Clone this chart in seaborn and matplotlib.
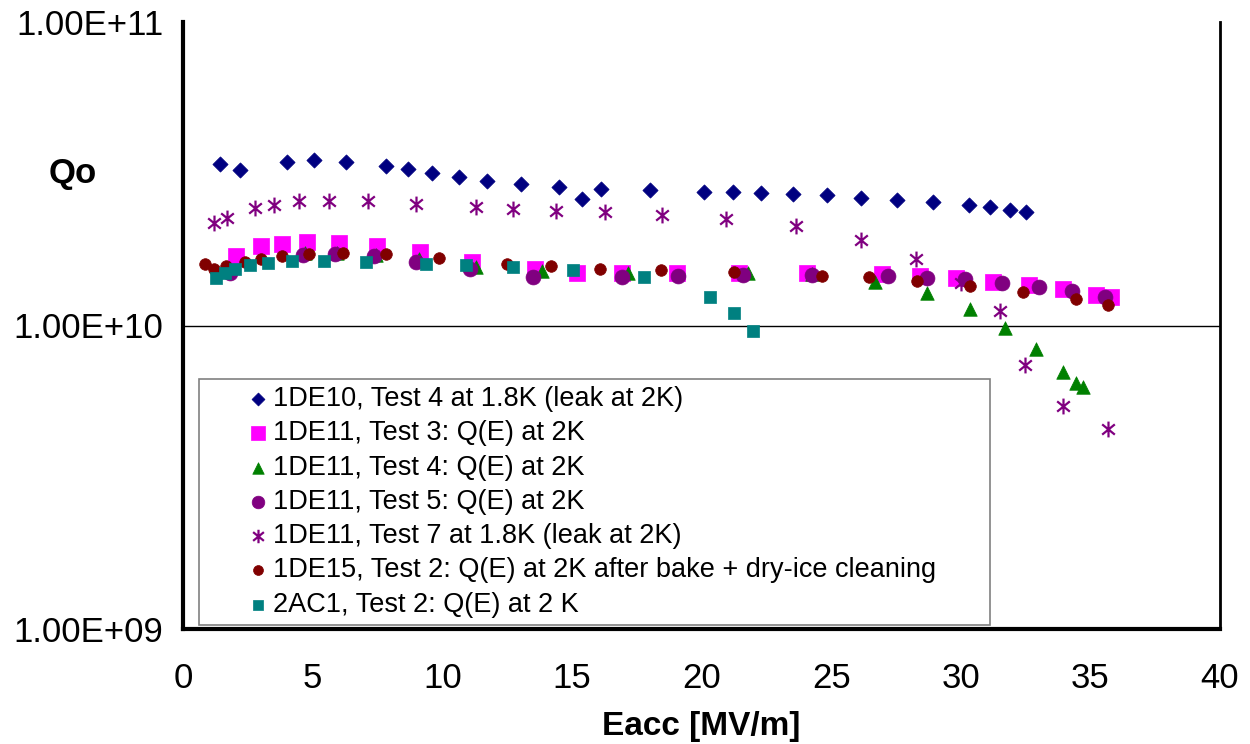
import matplotlib
matplotlib.use("Agg")
import matplotlib.pyplot as plt
import seaborn as sns
import numpy as np
from matplotlib.path import Path
from matplotlib.ticker import FixedLocator, FixedFormatter, NullLocator

# ---------------- data ----------------
de10_t4_x = [1.44, 2.21, 4.01, 5.06, 6.27, 7.83, 8.69, 9.62, 10.65, 11.72, 13.02, 14.49, 15.38, 16.14,
             18.01, 20.10, 21.22, 22.29, 23.54, 24.85, 26.17, 27.54, 28.93, 30.32, 31.11, 31.90, 32.51]
de10_t4_q = [3.40e10, 3.25e10, 3.45e10, 3.51e10, 3.45e10, 3.35e10, 3.27e10, 3.17e10, 3.08e10, 2.99e10,
             2.92e10, 2.86e10, 2.62e10, 2.82e10, 2.80e10, 2.76e10, 2.75e10, 2.73e10, 2.71e10, 2.69e10,
             2.64e10, 2.59e10, 2.55e10, 2.49e10, 2.45e10, 2.40e10, 2.36e10]

de11_t3_x = [2.06, 3.01, 3.82, 4.79, 6.03, 7.49, 9.14, 11.16, 13.57, 15.21, 16.93, 19.04, 21.45, 24.08,
             26.95, 28.42, 29.80, 31.25, 32.64, 33.95, 35.21, 35.79]
de11_t3_q = [1.69e10, 1.83e10, 1.86e10, 1.88e10, 1.87e10, 1.83e10, 1.74e10, 1.62e10, 1.53e10, 1.49e10,
             1.49e10, 1.49e10, 1.49e10, 1.49e10, 1.48e10, 1.46e10, 1.43e10, 1.39e10, 1.36e10, 1.32e10,
             1.26e10, 1.24e10]

de11_t4_x = [4.72, 5.94, 7.44, 9.10, 11.30, 13.83, 17.17, 21.80, 24.25, 26.69, 28.70, 30.35, 31.71,
             32.92, 33.93, 34.43, 34.70]
de11_t4_q = [1.73e10, 1.73e10, 1.71e10, 1.66e10, 1.56e10, 1.51e10, 1.49e10, 1.49e10, 1.48e10, 1.39e10,
             1.28e10, 1.13e10, 9.84e9, 8.37e9, 7.05e9, 6.48e9, 6.26e9]

de11_t5_x = [1.80, 4.63, 5.87, 7.35, 9.00, 11.06, 13.50, 16.94, 19.10, 21.61, 24.28, 27.20, 28.70,
             30.17, 31.61, 33.00, 34.31, 35.57]
de11_t5_q = [1.49e10, 1.71e10, 1.72e10, 1.69e10, 1.62e10, 1.53e10, 1.45e10, 1.44e10, 1.46e10, 1.47e10,
             1.47e10, 1.46e10, 1.43e10, 1.42e10, 1.38e10, 1.34e10, 1.30e10, 1.24e10]

de11_t7_x = [1.20, 1.71, 2.76, 3.51, 4.46, 5.63, 7.12, 8.99, 11.31, 12.73, 14.40, 16.27, 18.47, 20.95,
             23.64, 26.17, 28.28, 30.00, 31.53, 32.48, 33.94, 35.68]
de11_t7_q = [2.18e10, 2.26e10, 2.43e10, 2.50e10, 2.57e10, 2.58e10, 2.58e10, 2.52e10, 2.45e10, 2.42e10,
             2.39e10, 2.36e10, 2.32e10, 2.25e10, 2.13e10, 1.92e10, 1.66e10, 1.38e10, 1.12e10, 7.43e9,
             5.43e9, 4.55e9]

de15_t2_x = [0.86, 1.20, 1.67, 2.38, 3.02, 3.82, 4.86, 6.17, 7.83, 9.87, 12.49, 14.18, 16.08, 18.45,
             21.26, 24.63, 26.46, 28.33, 30.35, 32.41, 34.44, 35.67]
de15_t2_q = [1.59e10, 1.54e10, 1.57e10, 1.62e10, 1.66e10, 1.69e10, 1.72e10, 1.73e10, 1.72e10, 1.67e10,
             1.60e10, 1.57e10, 1.54e10, 1.52e10, 1.50e10, 1.46e10, 1.44e10, 1.40e10, 1.35e10, 1.29e10,
             1.22e10, 1.17e10]

ac1_t2_x = [1.26, 1.61, 2.02, 2.57, 3.28, 4.22, 5.44, 7.06, 9.38, 10.90, 12.74, 15.05, 17.78, 20.31,
            21.26, 21.99]
ac1_t2_q = [1.43e10, 1.49e10, 1.53e10, 1.58e10, 1.61e10, 1.63e10, 1.63e10, 1.62e10, 1.60e10, 1.58e10,
            1.56e10, 1.52e10, 1.44e10, 1.24e10, 1.10e10, 9.62e9]

labels = [
    "1DE10, Test 4 at 1.8K (leak at 2K)",
    "1DE11, Test 3: Q(E) at 2K",
    "1DE11, Test 4: Q(E) at 2K",
    "1DE11, Test 5: Q(E) at 2K",
    "1DE11, Test 7 at 1.8K (leak at 2K)",
    "1DE15, Test 2: Q(E) at 2K after bake + dry-ice cleaning",
    "2AC1, Test 2: Q(E) at 2 K",
]
y_ticks = [1e9, 1e10, 1e11]
y_tick_labels = ["1.00E+09", "1.00E+10", "1.00E+11"]
x_ticks = [0, 5, 10, 15, 20, 25, 30, 35, 40]

# ---------------- style ----------------
sns.set_theme(style="white")
plt.rcParams["font.family"] = ["Liberation Sans", "DejaVu Sans"]
plt.rcParams["text.color"] = "black"
plt.rcParams["axes.labelcolor"] = "black"
plt.rcParams["xtick.color"] = "black"
plt.rcParams["ytick.color"] = "black"

asterisk = Path([(0, -1), (0, 1), (-0.8, -0.65), (0.8, 0.65), (-0.8, 0.65), (0.8, -0.65)],
                [Path.MOVETO, Path.LINETO, Path.MOVETO, Path.LINETO, Path.MOVETO, Path.LINETO])

series = [
    (de10_t4_x, de10_t4_q, "D", "#000080", 60, 0.5),
    (de11_t3_x, de11_t3_q, "s", "#FF00FF", 125, 0.5),
    (de11_t4_x, de11_t4_q, "^", "#008000", 95, 0.5),
    (de11_t5_x, de11_t5_q, "o", "#800080", 115, 0.5),
    (de11_t7_x, de11_t7_q, asterisk, "#800080", 130, 1.6),
    (de15_t2_x, de15_t2_q, "o", "#800000", 70, 0.5),
    (ac1_t2_x, ac1_t2_q, "s", "#008080", 85, 0.5),
]

fig = plt.figure(figsize=(12.5, 7.44), dpi=100)
ax = fig.add_axes([183 / 1250, 1 - 629 / 744, (1220 - 183) / 1250, (629 - 22) / 744])

for (xs, qs, mk, col, sz, lw), lab in zip(series, labels):
    sns.scatterplot(x=xs, y=qs, ax=ax, marker=mk, color=col, s=sz,
                    edgecolor=col, linewidth=lw, label=lab)

ax.set_yscale("log")
ax.set_xlim(0, 40)
ax.set_ylim(1e9, 1e11)
ax.yaxis.set_major_locator(FixedLocator(y_ticks))
ax.yaxis.set_major_formatter(FixedFormatter(y_tick_labels))
ax.yaxis.set_minor_locator(NullLocator())
ax.set_xticks(x_ticks)
ax.set_xticklabels([str(t) for t in x_ticks])

ax.yaxis.grid(True, color="black", linewidth=1.0)
ax.xaxis.grid(False)
for gl in ax.get_ygridlines():
    gl.set_visible(False)
ax.get_ygridlines()[1].set_visible(True)

ax.tick_params(axis="both", which="major", direction="out", length=9, width=1.3,
               color="#707070", labelsize=25, labelcolor="black", pad=5)
ax.tick_params(axis="x", pad=15)

for side in ["left", "bottom"]:
    ax.spines[side].set_linewidth(3)
    ax.spines[side].set_color("black")
ax.spines["right"].set_linewidth(2)
ax.spines["right"].set_color("black")
ax.spines["top"].set_visible(False)

ax.set_ylabel("Qo", rotation=0, fontsize=25, fontweight="bold", ha="center", va="center")
ax.yaxis.set_label_coords(-0.106, 0.751)
ax.set_xlabel("Eacc [MV/m]", fontsize=24, fontweight="bold", va="center")
ax.xaxis.set_label_coords(0.5, -0.16)

leg = ax.legend(loc="lower left", bbox_to_anchor=(0.0154, 0.0066, 0.763, 0.407), mode="expand",
                borderaxespad=0, fontsize=19.5, frameon=True, fancybox=False, framealpha=1,
                edgecolor="#808080", borderpad=0.27, labelspacing=0.305, handlelength=3.8,
                handletextpad=-1.35, scatterpoints=1, markerscale=0.85)
leg.get_frame().set_linewidth(1.2)

fig.savefig("out.png", dpi=100, facecolor="white")
